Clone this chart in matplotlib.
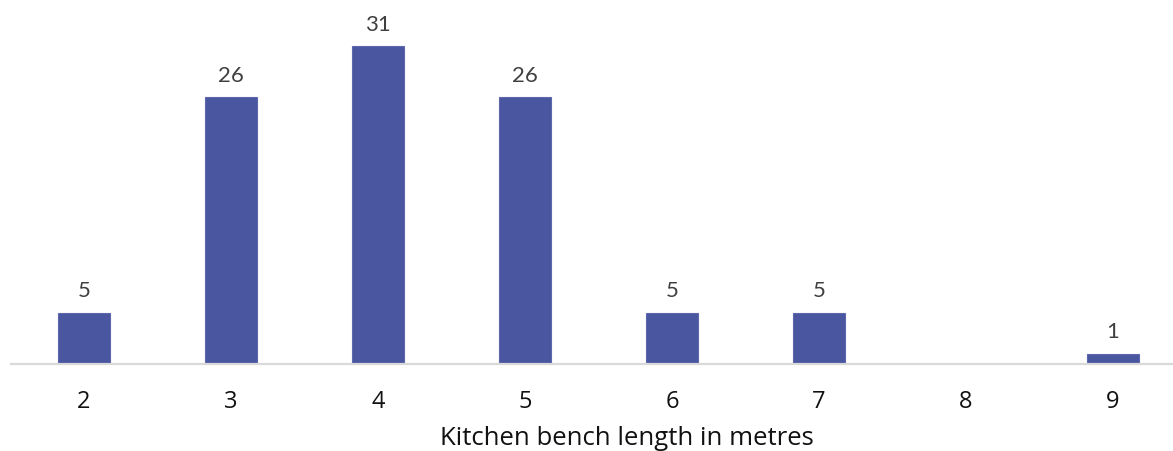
import matplotlib
matplotlib.use("Agg")
import matplotlib.pyplot as plt

lengths = [2, 3, 4, 5, 6, 7, 8, 9]
counts = [5, 26, 31, 26, 5, 5, 0, 1]
tick_labels = ["2", "3", "4", "5", "6", "7", "8", "9"]

W, H = 1173, 452
fig = plt.figure(figsize=(W / 100, H / 100), dpi=100)

# axes spans x 1.5..9.5 (runs a bit past the right edge), baseline at 365px
ax = fig.add_axes([10.5 / W, (H - 365) / H, 1176 / W, 365 / H])
ax.set_xlim(1.5, 9.5)
ax.set_ylim(0, 35.58)

bars = ax.bar(lengths, counts, width=0.355, color="#4A56A0", edgecolor="#5d68ad",
              linewidth=0.8, zorder=2)

for xi, c in zip(lengths, counts):
    if c == 0:
        continue
    ax.text(xi, c + 1.2, str(c), ha="center", va="bottom", fontsize=16,
            family="Lato", color="#404040")

for s in ["top", "right", "left"]:
    ax.spines[s].set_visible(False)
ax.spines["bottom"].set_color("#d9d9d9")
ax.spines["bottom"].set_linewidth(1.6)
ax.set_yticks([])
ax.set_xticks(lengths)
ax.set_xticklabels(tick_labels, fontsize=17, family="Open Sans", color="#111111")
ax.tick_params(axis="x", length=0, pad=18)

fig.text(627 / W, 1 - 439 / H, "Kitchen bench length in metres", ha="center",
         va="center", fontsize=18.5, family="Open Sans", color="#111111")

fig.savefig("out.png", dpi=100)
